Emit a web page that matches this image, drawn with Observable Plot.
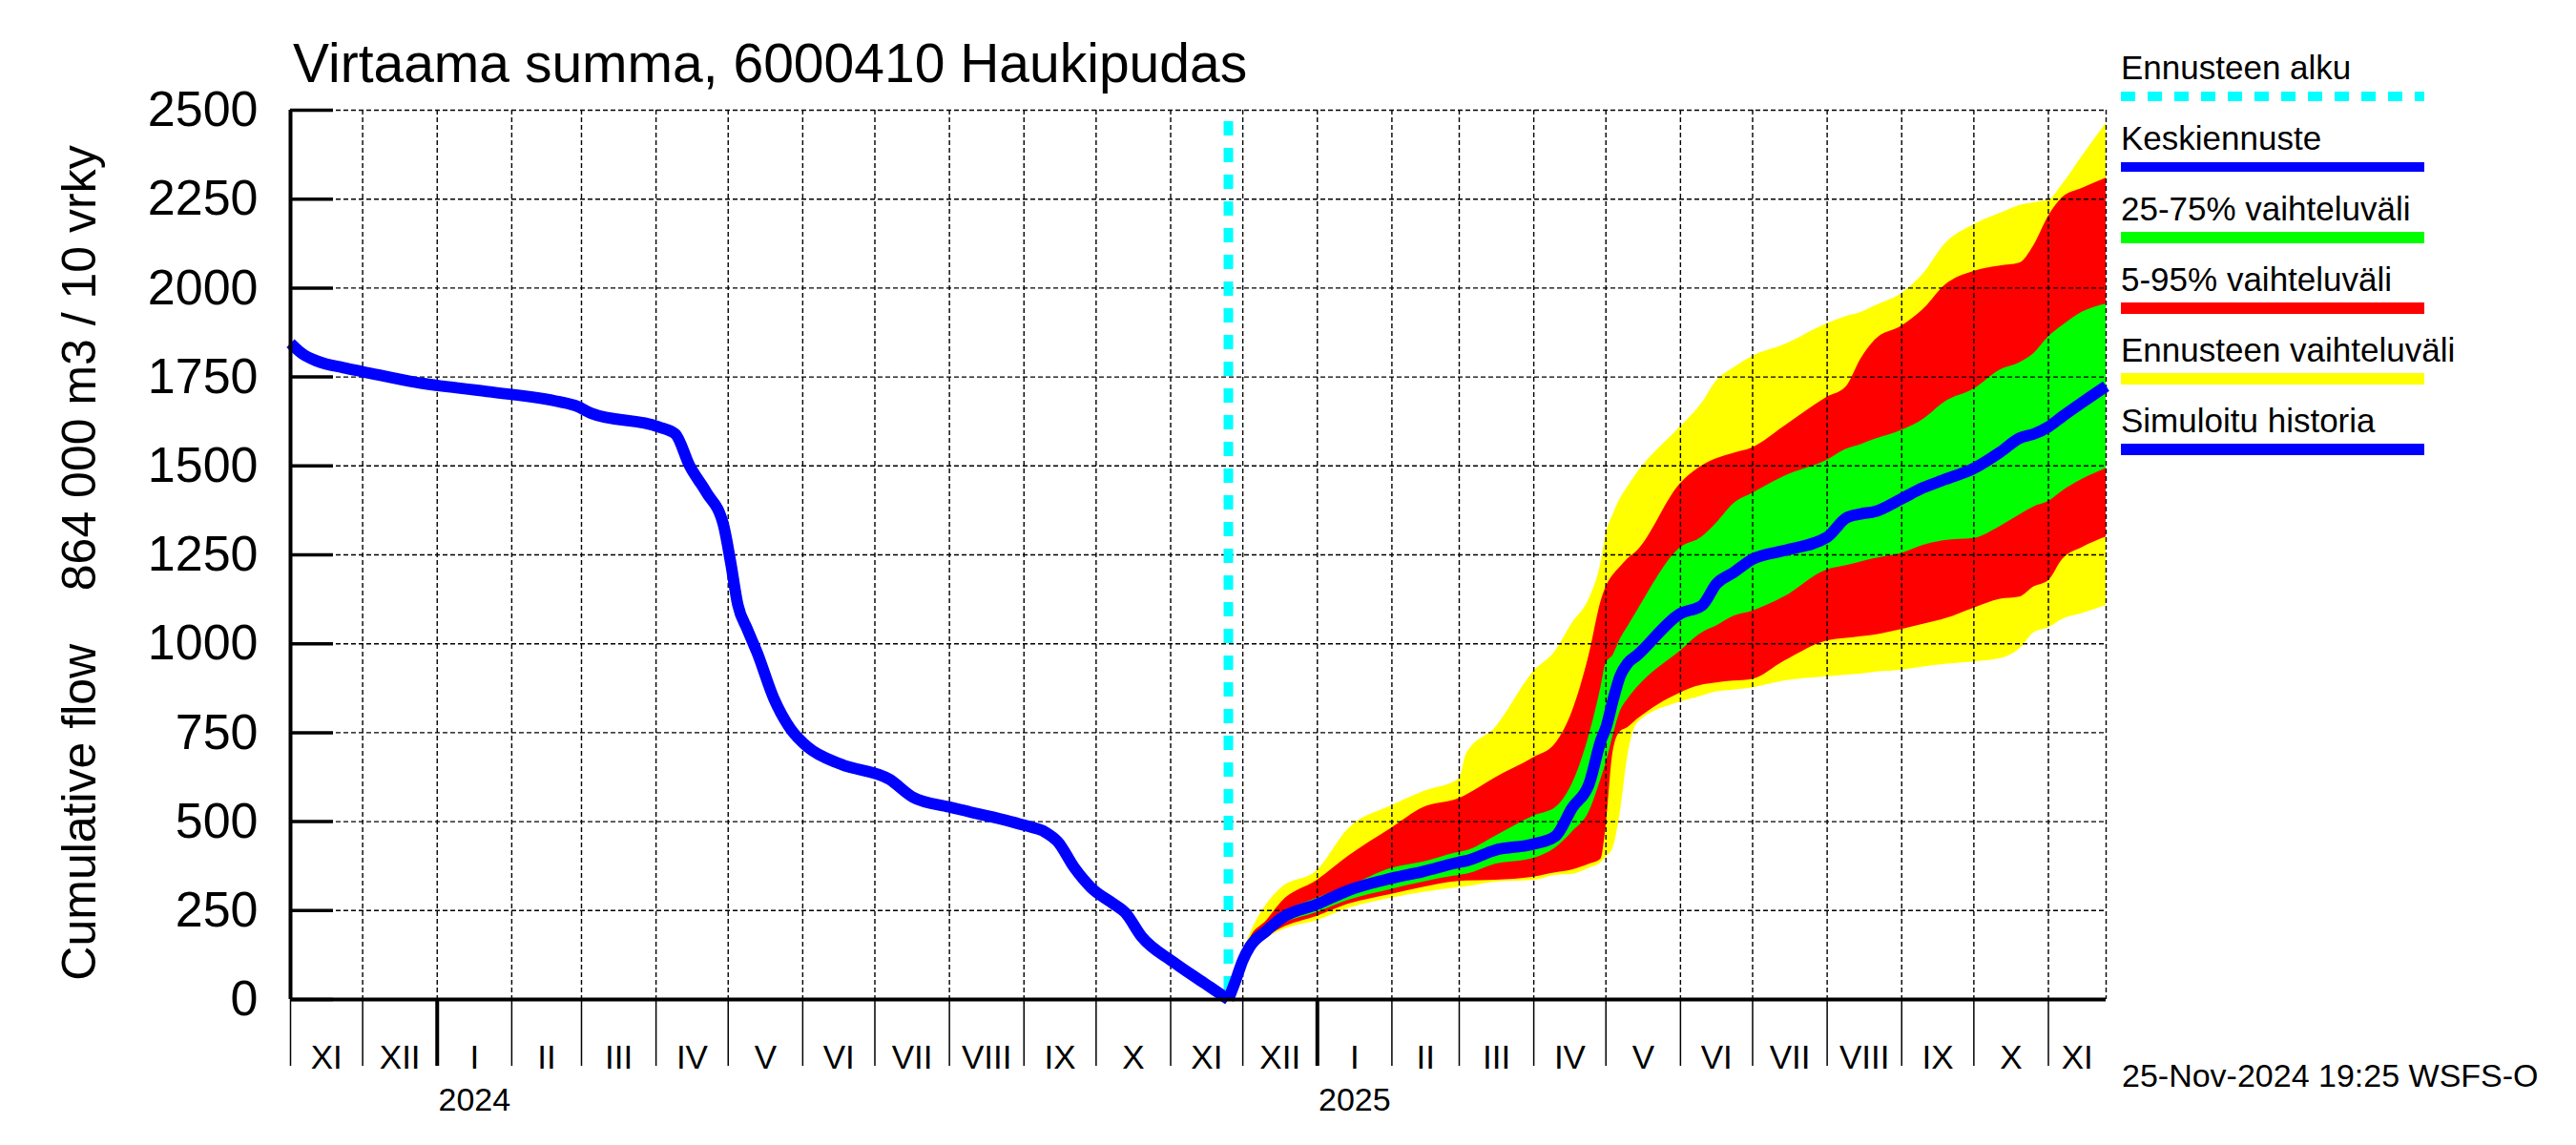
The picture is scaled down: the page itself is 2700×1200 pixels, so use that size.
<!DOCTYPE html>
<html><head><meta charset="utf-8">
<script src="https://cdn.jsdelivr.net/npm/d3@7"></script>
<script src="https://cdn.jsdelivr.net/npm/@observablehq/plot@0.6"></script>
<style>
html,body{margin:0;padding:0;background:#fff;}
#wrap{position:relative;width:2700px;height:1200px;}
#wrap svg{position:absolute;left:0;top:0;}
</style></head><body><div id="wrap"></div>
<script>
// ---------- data ----------
const titleText = "Virtaama summa, 6000410 Haukipudas";
const yLabelText = "Cumulative flow    864 000 m3 / 10 vrky";
const footerText = "25-Nov-2024 19:25 WSFS-O";
const monthNames = ["I","II","III","IV","V","VI","VII","VIII","IX","X","XI","XII"];
const yTicks = [0,250,500,750,1000,1250,1500,1750,2000,2250,2500];
const xStart = "2023-11-01", xEnd = "2025-11-25", forecastStart = "2024-11-25";

const historyDates = ["2023-11-01","2023-11-06","2023-11-12","2023-11-23","2023-12-01","2023-12-23","2024-01-22","2024-02-21","2024-02-28","2024-03-05","2024-04-02","2024-04-09","2024-04-15","2024-04-22","2024-04-29","2024-05-02","2024-05-05","2024-05-09","2024-05-13","2024-05-20","2024-05-27","2024-06-03","2024-06-17","2024-07-07","2024-07-17","2024-08-01","2024-09-01","2024-09-10","2024-09-15","2024-09-22","2024-09-29","2024-10-08","2024-10-13","2024-10-20","2024-11-02","2024-11-15","2024-11-25"];
const historyValues = [1845,1815,1795,1776,1765,1735,1709,1680,1668,1648,1610,1590,1500,1425,1335,1230,1110,1040,976,846,760,710,661,619,568,541,490,470,444,370,314,270,245,176,106,46,0];

const forecastDates = ["2024-11-25","2024-11-28","2024-12-01","2024-12-04","2024-12-11","2024-12-17","2025-01-01","2025-01-14","2025-02-01","2025-02-14","2025-03-01","2025-03-04","2025-03-16","2025-04-01","2025-04-10","2025-04-17","2025-04-24","2025-04-29","2025-05-01","2025-05-04","2025-05-07","2025-05-10","2025-05-14","2025-06-01","2025-06-10","2025-06-16","2025-06-23","2025-07-01","2025-07-14","2025-08-01","2025-08-09","2025-08-15","2025-08-21","2025-09-01","2025-09-10","2025-09-19","2025-10-01","2025-10-12","2025-10-20","2025-10-26","2025-11-01","2025-11-07","2025-11-15","2025-11-25"];
const maxValues    = [0,60,130,183,268,313,363,480,545,584,620,690,764,922,979,1058,1126,1230,1306,1363,1408,1440,1480,1610,1677,1739,1775,1808,1840,1900,1920,1931,1950,1985,2040,2124,2178,2210,2232,2240,2247,2293,2370,2463];
const p95Values    = [0,58,122,172,222,273,335,403,482,539,565,575,623,680,719,809,968,1120,1159,1193,1216,1238,1261,1450,1500,1520,1535,1551,1610,1693,1723,1800,1854,1893,1940,2008,2047,2062,2070,2120,2201,2255,2280,2309];
const p75Values    = [0,55,115,160,205,239,285,318,369,386,414,418,459,516,539,606,742,880,945,968,1013,1047,1092,1270,1300,1339,1393,1423,1470,1516,1547,1560,1575,1600,1631,1680,1716,1770,1790,1816,1862,1895,1932,1955];
const medianValues = [0,53,110,149,194,228,268,307,341,360,386,390,420,437,459,539,606,730,764,843,911,945,968,1085,1108,1169,1200,1238,1262,1300,1354,1365,1372,1408,1439,1462,1493,1539,1578,1590,1610,1640,1678,1724];
const p25Values    = [0,50,105,143,186,211,245,279,310,330,349,352,380,397,426,471,527,620,663,742,810,843,877,980,1031,1050,1077,1092,1131,1208,1220,1230,1240,1254,1277,1290,1296,1330,1362,1385,1400,1430,1462,1493];
const p05Values    = [0,48,98,138,177,200,234,268,296,315,332,333,335,344,356,364,380,395,482,697,753,764,787,862,884,890,895,900,950,1008,1015,1020,1025,1040,1055,1070,1100,1125,1131,1160,1177,1238,1270,1300];
const minValues    = [0,45,92,132,172,194,222,256,285,301,315,317,330,335,349,352,369,385,400,426,527,680,776,836,853,865,870,876,895,907,912,915,920,926,935,942,949,958,985,1031,1045,1069,1085,1108];

const legendLabels = ["Ennusteen alku","Keskiennuste","25-75% vaihteluväli","5-95% vaihteluväli","Ennusteen vaihteluväli","Simuloitu historia"];
const legendColors = ["#00FFFF","#0000FF","#00FF00","#FF0000","#FFFF00","#0000FF"];
const legendWidths = [10,10,12,12,12,12];
const legendDash   = ["15,13",null,null,null,null,null];

// ---------- build ----------
const D = s => new Date(s + "T00:00:00Z");
const history = historyDates.map((d,i) => ({date: D(d), v: historyValues[i]}));
const forecast = forecastDates.map((d,i) => ({date: D(d), min: minValues[i], p05: p05Values[i], p25: p25Values[i], med: medianValues[i], p75: p75Values[i], p95: p95Values[i], max: maxValues[i]}));
const x0 = D(xStart), x1 = D(xEnd), xf = D(forecastStart);
const monthStarts = d3.utcMonth.range(d3.utcMonth.ceil(x0), x1);
const yearStarts = monthStarts.filter(d => d.getUTCMonth() === 0);
const bounds = [x0, ...monthStarts.filter(d => +d > +x0), x1];
const monthLabels = [];
for (let i = 0; i < bounds.length - 1; i++) {
  monthLabels.push({mid: new Date((+bounds[i] + +bounds[i+1]) / 2), label: monthNames[bounds[i].getUTCMonth()]});
}
const yearLabels = yearStarts.map(d => ({mid: new Date((+d + +d3.utcMonth.offset(d,1)) / 2), label: String(d.getUTCFullYear())}));

const W = 2700, H = 1200, mL = 304, mR = 493, mT = 115, mB = 153;
const plotW = W - mL - mR;
const font = "'Liberation Sans', Arial, Helvetica, sans-serif";
const dash = "5,3";

const chart = Plot.plot({
  width: W, height: H,
  marginLeft: mL, marginRight: mR, marginTop: mT, marginBottom: mB,
  x: {type: "utc", domain: [x0, x1]},
  y: {domain: [0, 2500]},
  style: {fontFamily: font, background: "white", color: "black"},
  marks: [
    Plot.areaY(forecast, {x: "date", y1: "min", y2: "max", fill: "#FFFF00", curve: "monotone-x"}),
    Plot.areaY(forecast, {x: "date", y1: "p05", y2: "p95", fill: "#FF0000", curve: "monotone-x"}),
    Plot.areaY(forecast, {x: "date", y1: "p25", y2: "p75", fill: "#00FF00", curve: "monotone-x"}),
    Plot.gridY(yTicks, {stroke: "black", strokeOpacity: 1, strokeWidth: 1.4, strokeDasharray: dash}),
    Plot.gridX(monthStarts, {stroke: "black", strokeOpacity: 1, strokeWidth: 1.4, strokeDasharray: dash}),
    Plot.ruleX([x1], {stroke: "black", strokeWidth: 1.4, strokeDasharray: dash}),
    Plot.ruleX([xf], {stroke: "#00FFFF", strokeWidth: 10, strokeDasharray: "15,13", insetTop: 12}),
    Plot.line(history, {x: "date", y: "v", stroke: "#0000FF", strokeWidth: 12, strokeLinejoin: "round", strokeLinecap: "butt", curve: "monotone-x"}),
    Plot.line(forecast, {x: "date", y: "med", stroke: "#0000FF", strokeWidth: 12, strokeLinejoin: "round", strokeLinecap: "butt", curve: "monotone-x"}),
    Plot.tickY(yTicks, {y: d => d, stroke: "black", strokeWidth: 3.5, insetRight: plotW - 45}),
    Plot.axisY({ticks: yTicks, tickSize: 0, tickPadding: 34, fontSize: 52, tickFormat: d => String(d)}),
    Plot.axisX({ticks: monthStarts, tickSize: 70, strokeWidth: 1.5, tickFormat: () => ""}),
    Plot.axisX({ticks: yearStarts, tickSize: 70, strokeWidth: 4, tickFormat: () => ""}),
    Plot.text(monthLabels, {x: "mid", text: "label", frameAnchor: "bottom", dy: 61, fontSize: 35, lineAnchor: "middle"}),
    Plot.text(yearLabels, {x: "mid", text: "label", frameAnchor: "bottom", dy: 106, fontSize: 34, lineAnchor: "middle"}),
    Plot.ruleY([0], {stroke: "black", strokeWidth: 4}),
    Plot.ruleX([x0], {stroke: "black", strokeWidth: 4})
  ]
});
const wrap = document.getElementById("wrap");
wrap.appendChild(chart);

// ---------- annotations overlay ----------
const ov = d3.select(wrap).append("svg").attr("width", W).attr("height", H)
  .style("font-family", font).style("pointer-events", "none");
ov.append("text").attr("x", 307).attr("y", 86).attr("font-size", 57).text(titleText);
ov.append("text").attr("transform", "translate(100,590) rotate(-90)").attr("text-anchor", "middle")
  .attr("font-size", 50).attr("xml:space", "preserve").style("white-space", "pre").text(yLabelText);
ov.append("text").attr("x", 2224).attr("y", 1139).attr("font-size", 34).text(footerText);
legendLabels.forEach((lab, i) => {
  const by = 83 + i * 74, ly = 101 + i * 74;
  ov.append("text").attr("x", 2223).attr("y", by).attr("font-size", 35).text(lab);
  const ln = ov.append("line").attr("x1", 2223).attr("x2", 2541).attr("y1", ly).attr("y2", ly)
    .attr("stroke", legendColors[i]).attr("stroke-width", legendWidths[i]);
  if (legendDash[i]) ln.attr("stroke-dasharray", legendDash[i]);
});
</script></body></html>
